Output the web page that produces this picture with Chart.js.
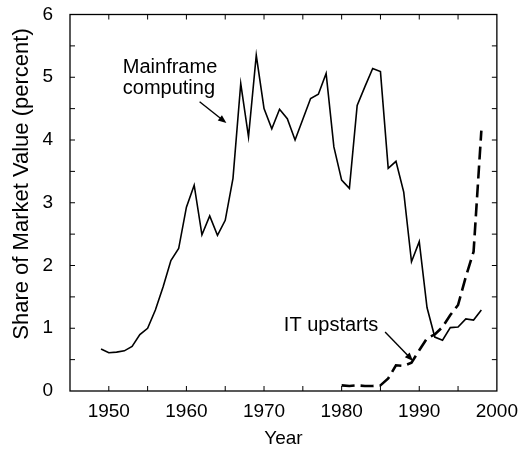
<!DOCTYPE html>
<html>
<head>
<meta charset="utf-8">
<script src="https://cdn.jsdelivr.net/npm/chart.js@4"></script>
<style>
  html, body { margin: 0; padding: 0; background: #fff; }
  #wrap { width: 527px; height: 450px; }
</style>
</head>
<body>
<div id="wrap"><canvas id="grafico"></canvas></div>
<script>
// values
const mainframeYears = [1949, 1950, 1951, 1952, 1953, 1954, 1955, 1956, 1957, 1958,
   1959, 1960, 1961, 1962, 1963, 1964, 1965, 1966, 1967, 1968,
   1969, 1970, 1971, 1972, 1973, 1974, 1975, 1976, 1977, 1978,
   1979, 1980, 1981, 1982, 1983, 1984, 1985, 1986, 1987, 1988,
   1989, 1990, 1991, 1992, 1993, 1994, 1995, 1996, 1997, 1998];
const mainframeShare = [0.67, 0.61, 0.62, 0.64, 0.71, 0.90, 1.00, 1.29, 1.66, 2.08,
   2.27, 2.93, 3.28, 2.49, 2.79, 2.48, 2.72, 3.39, 4.90, 4.05,
   5.35, 4.50, 4.18, 4.49, 4.34, 4.00, 4.33, 4.66, 4.73, 5.06,
   3.89, 3.36, 3.23, 4.55, 4.85, 5.14, 5.09, 3.55, 3.66, 3.17,
   2.06, 2.38, 1.33, 0.86, 0.81, 1.01, 1.02, 1.15, 1.13, 1.29];

const upstartYears = [1980, 1981, 1982, 1983, 1984, 1985, 1986, 1987, 1988, 1989,
   1990, 1991, 1992, 1993, 1994, 1995, 1996, 1997, 1998];
const upstartShare = [0.09, 0.08, 0.09, 0.08, 0.08, 0.09, 0.20, 0.41, 0.40, 0.45,
   0.65, 0.84, 0.90, 1.02, 1.21, 1.37, 1.82, 2.22, 4.15];

const yearTicks = [1950, 1960, 1970, 1980, 1990, 2000];
const shareTicks = [0, 1, 2, 3, 4, 5, 6];

const fontName = '"Liberation Sans", Arial, Helvetica, sans-serif';

function toPoints(xs, ys) {
   return xs.map(function (x, i) {
      return { x: x, y: ys[i] };
   });
}

// box, small inward ticks on all four sides, y title and the text notes
const frameAndNotes = {
   id: 'frameAndNotes',
   afterDraw(chart) {
      const ctx = chart.ctx;
      const xs = chart.scales.x;
      const ys = chart.scales.y;
      const a = chart.chartArea;
      ctx.save();
      ctx.strokeStyle = '#000';
      ctx.lineWidth = 1.3;
      ctx.strokeRect(a.left, a.top, a.right - a.left, a.bottom - a.top);

      ctx.lineWidth = 1;
      ctx.beginPath();
      for (let yr = 1950; yr <= 1995; yr += 5) {
         const px = xs.getPixelForValue(yr);
         ctx.moveTo(px, a.bottom); ctx.lineTo(px, a.bottom - 5);
         ctx.moveTo(px, a.top); ctx.lineTo(px, a.top + 5);
      }
      for (let v = 0.5; v < 6; v += 0.5) {
         const py = ys.getPixelForValue(v);
         ctx.moveTo(a.left, py); ctx.lineTo(a.left + 5, py);
         ctx.moveTo(a.right, py); ctx.lineTo(a.right - 5, py);
      }
      ctx.stroke();

      ctx.fillStyle = '#000';

      // y axis title, sits a bit above the middle in the original
      ctx.save();
      ctx.translate(21.5, 184);
      ctx.rotate(-Math.PI / 2);
      ctx.font = '22px ' + fontName;
      ctx.textAlign = 'center';
      ctx.textBaseline = 'middle';
      ctx.fillText('Share of Market Value (percent)', 0, 0);
      ctx.restore();

      ctx.font = '20px ' + fontName;
      ctx.textAlign = 'left';
      ctx.textBaseline = 'alphabetic';
      ctx.fillText('Mainframe', xs.getPixelForValue(1951.8), ys.getPixelForValue(5.06));
      ctx.fillText('computing', xs.getPixelForValue(1951.8), ys.getPixelForValue(4.74));
      ctx.fillText('IT upstarts', xs.getPixelForValue(1972.55), ys.getPixelForValue(0.96));

      arrow(ctx, xs.getPixelForValue(1961.7), ys.getPixelForValue(4.61),
         xs.getPixelForValue(1965.15), ys.getPixelForValue(4.27));
      arrow(ctx, xs.getPixelForValue(1985.6), ys.getPixelForValue(0.94),
         xs.getPixelForValue(1989.2), ys.getPixelForValue(0.48));
      ctx.restore();
   }
};

function arrow(ctx, x1, y1, x2, y2) {
   const ang = Math.atan2(y2 - y1, x2 - x1);
   const len = 9;
   ctx.lineWidth = 1.4;
   ctx.beginPath();
   ctx.moveTo(x1, y1);
   ctx.lineTo(x2 - Math.cos(ang) * 4, y2 - Math.sin(ang) * 4);
   ctx.stroke();
   ctx.beginPath();
   ctx.moveTo(x2, y2);
   ctx.lineTo(x2 - len * Math.cos(ang - 0.38), y2 - len * Math.sin(ang - 0.38));
   ctx.lineTo(x2 - len * Math.cos(ang + 0.38), y2 - len * Math.sin(ang + 0.38));
   ctx.closePath();
   ctx.fill();
}

const grafico = document.getElementById('grafico').getContext('2d');
const chart1 = new Chart(grafico, {
   type: 'line',
   data: {
      datasets: [
         {
            label: 'Mainframe computing',
            data: toPoints(mainframeYears, mainframeShare),
            borderColor: '#000',
            borderWidth: 1.6,
            pointRadius: 0,
            tension: 0
         },
         {
            label: 'IT upstarts',
            data: toPoints(upstartYears, upstartShare),
            borderColor: '#000',
            borderWidth: 2.6,
            borderDash: [13, 6],
            pointRadius: 0,
            tension: 0
         }
      ]
   },
   options: {
      responsive: true,
      maintainAspectRatio: false,
      animation: false,
      layout: { padding: { top: 14.5, right: 30, left: 0, bottom: 0 } },
      plugins: {
         legend: { display: false },
         tooltip: { enabled: false }
      },
      scales: {
         x: {
            type: 'linear',
            min: 1945,
            max: 2000,
            afterBuildTicks: function (scale) {
               scale.ticks = yearTicks.map(function (v) { return { value: v }; });
            },
            afterFit: function (scale) { scale.height = 59; },
            grid: { display: false, drawTicks: false },
            border: { display: false },
            ticks: {
               color: '#000',
               padding: 9,
               maxRotation: 0,
               font: { family: fontName, size: 19 },
               callback: function (v) { return String(v); }
            },
            title: {
               display: true,
               text: 'Year',
               color: '#000',
               padding: { top: 2, bottom: 0 },
               font: { family: fontName, size: 19 }
            }
         },
         y: {
            type: 'linear',
            min: 0,
            max: 6,
            afterBuildTicks: function (scale) {
               scale.ticks = shareTicks.map(function (v) { return { value: v }; });
            },
            afterFit: function (scale) {
               scale.width = 70;
               // tick padding would otherwise be added above the plot
               scale.paddingTop = 0;
               scale.paddingBottom = 0;
            },
            grid: { display: false, drawTicks: false },
            border: { display: false },
            ticks: {
               color: '#000',
               padding: 17,
               font: { family: fontName, size: 19 }
            }
         }
      }
   },
   plugins: [frameAndNotes]
});
</script>
</body>
</html>
